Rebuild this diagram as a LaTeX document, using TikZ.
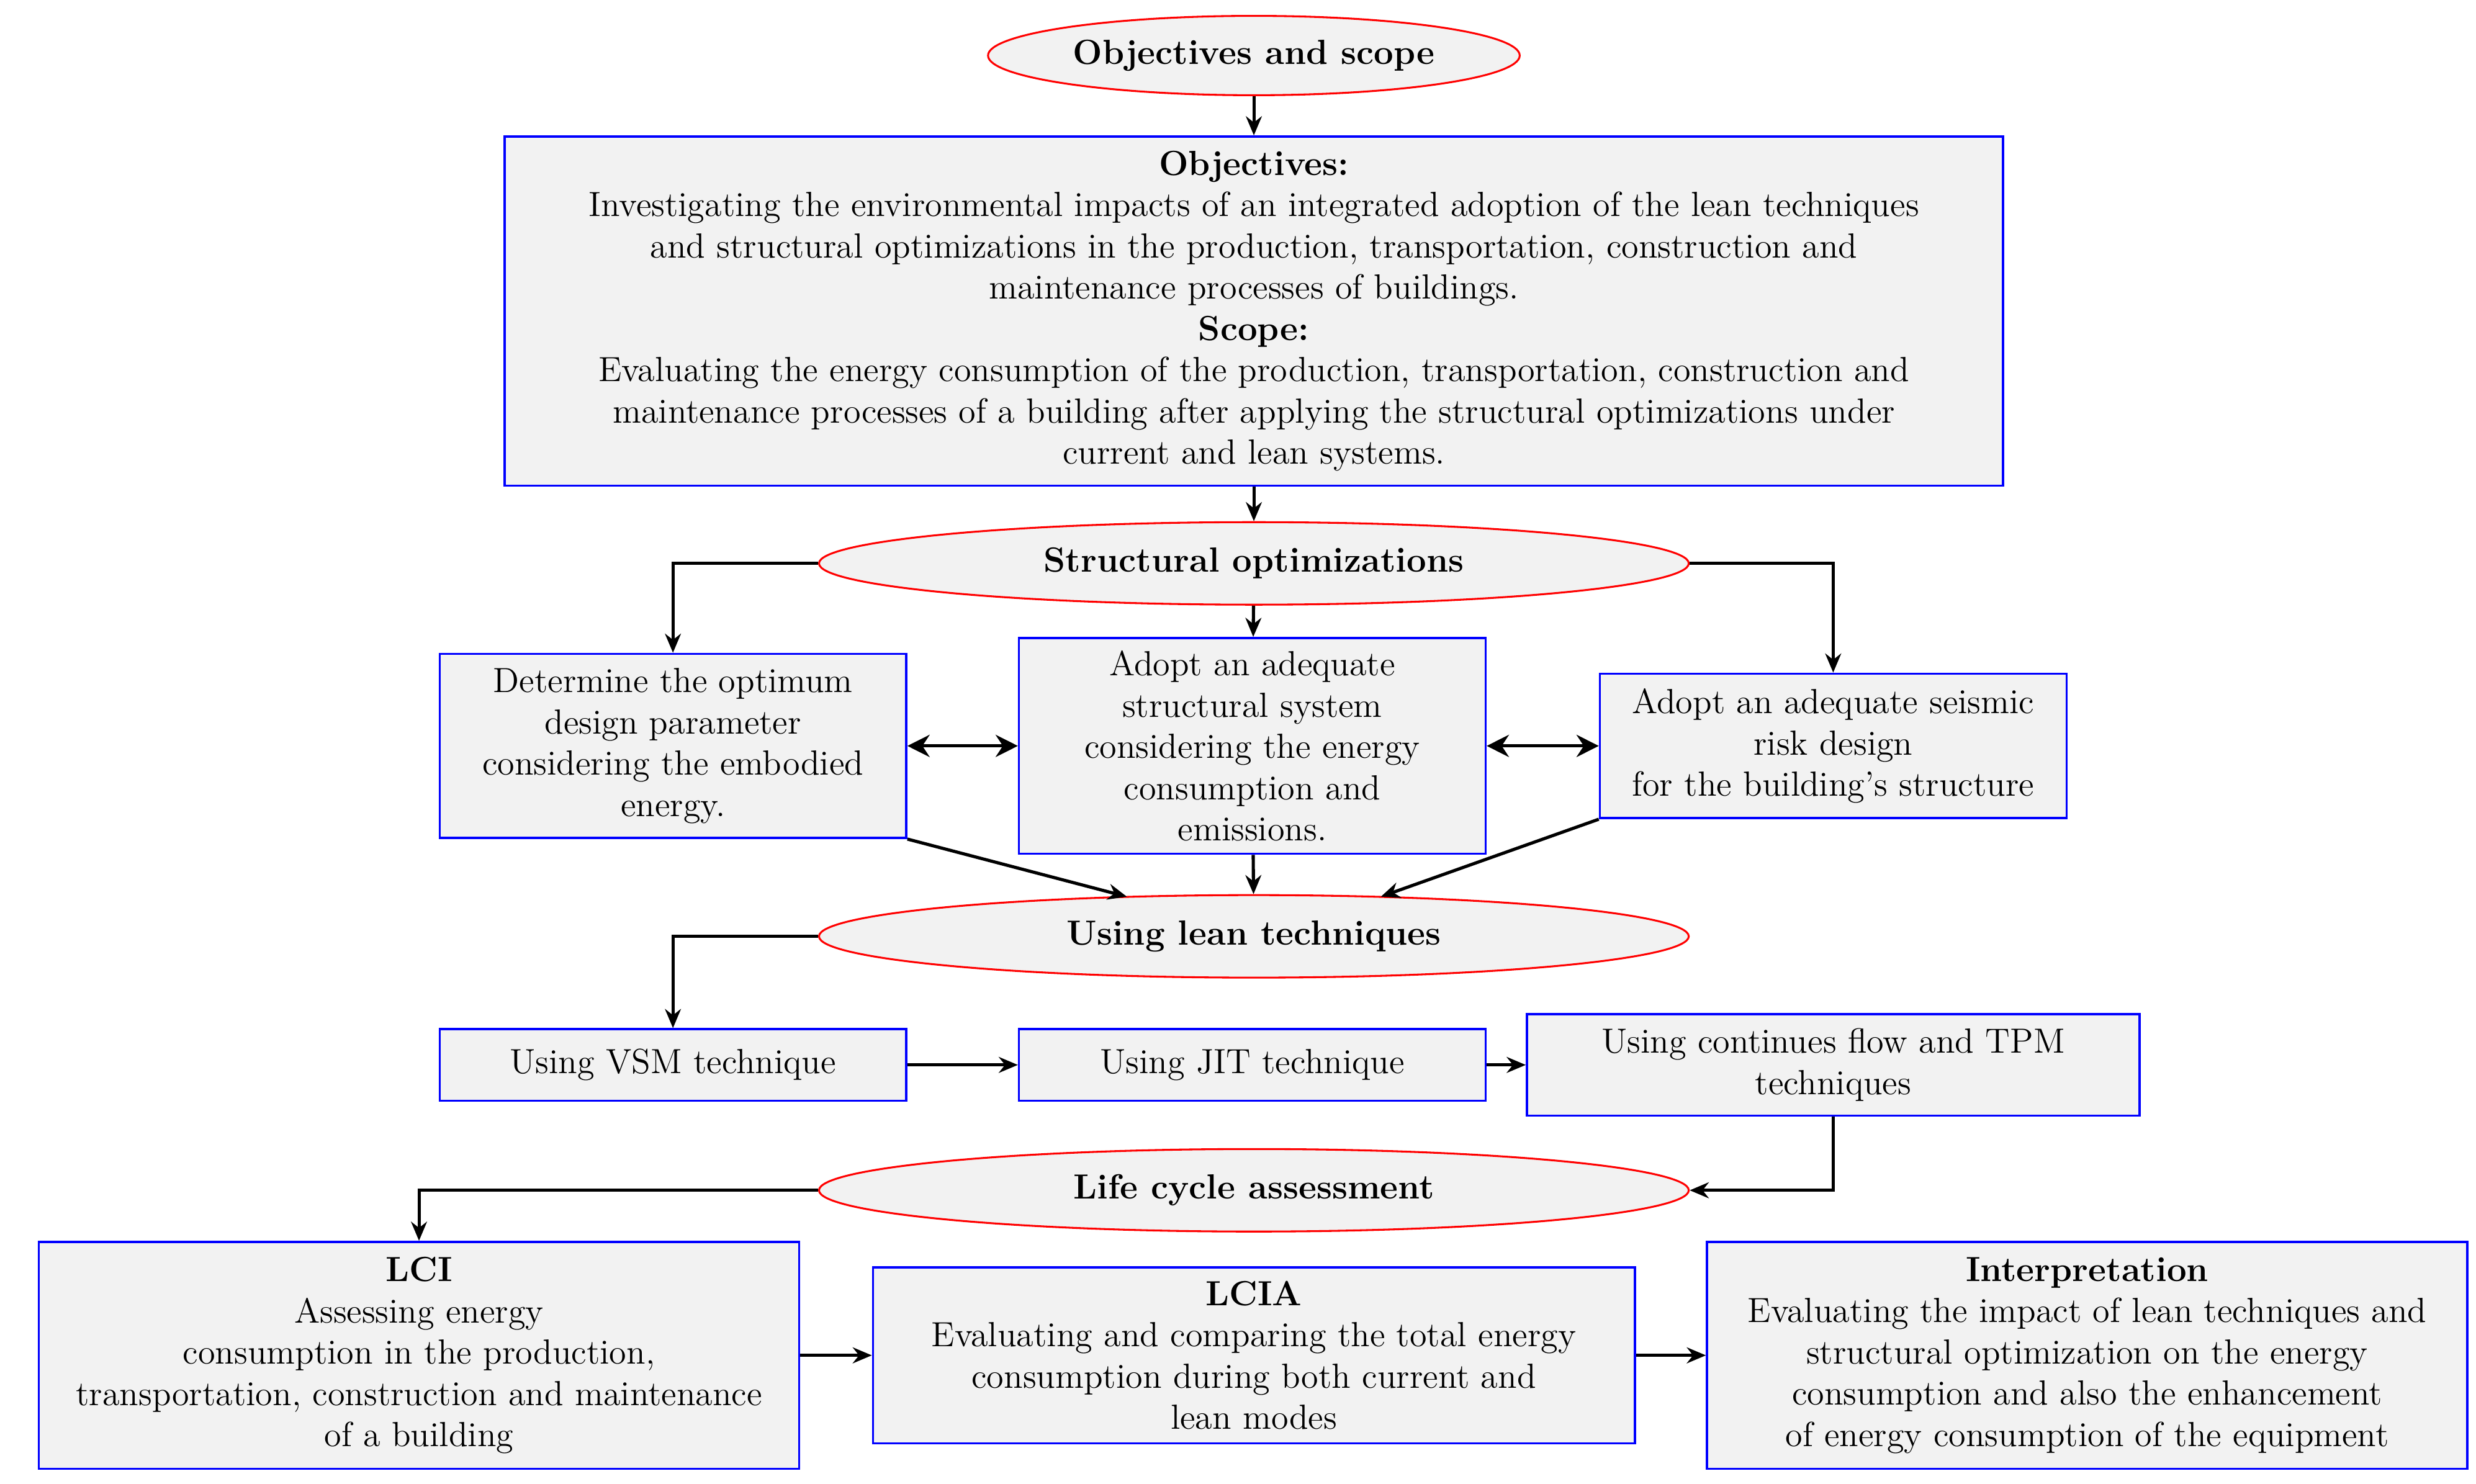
\documentclass[tikz,border=0pt]{standalone}
\usetikzlibrary{shapes.geometric,arrows.meta}
\begin{document}
\begin{tikzpicture}[x=0.5pt,y=-0.5pt,
 every node/.style={font=\fontsize{11}{13}\selectfont, align=center, inner sep=1pt},
 ell/.style={ellipse, draw=red, fill=gray!10, line width=0.6pt, font=\fontsize{11}{13}\selectfont\bfseries},
 box/.style={rectangle, draw=blue, fill=gray!10, line width=0.7pt},
 arr/.style={-{Stealth[length=6pt,width=5pt]}, line width=1pt},
 darr/.style={{Stealth[length=7pt,width=7pt]}-{Stealth[length=7pt,width=7pt]}, line width=1pt}]
\useasboundingbox (0,0) rectangle (1560,935);
\node[ell,minimum width=167.5pt,minimum height=25pt] (e1) at (790,35) {Objectives and scope};
\node[box,minimum width=472pt,minimum height=110pt] (b1) at (790,196) {\textbf{Objectives:}\\Investigating the environmental impacts of an integrated adoption of the lean techniques\\and structural optimizations in the production, transportation, construction and\\maintenance processes of buildings.\\\textbf{Scope:}\\Evaluating the energy consumption of the production, transportation, construction and\\maintenance processes of a building after applying the structural optimizations under\\current and lean systems.};
\node[ell,minimum width=274pt,minimum height=26pt] (e2) at (790,355) {Structural optimizations};
\node[box,minimum width=147pt,minimum height=58pt] (b21) at (424,470) {Determine the optimum\\design parameter\\considering the embodied\\energy.};
\node[box,minimum width=147pt,minimum height=68pt] (b22) at (789,470) {Adopt an adequate\\structural system\\considering the energy\\consumption and\\emissions.};
\node[box,minimum width=147pt,minimum height=45.5pt] (b23) at (1155,470) {Adopt an adequate seismic\\risk design\\for the building's structure};
\node[ell,minimum width=274pt,minimum height=26pt] (e3) at (790,590) {Using lean techniques};
\node[box,minimum width=147pt,minimum height=22.5pt] (b31) at (424,671) {Using VSM technique};
\node[box,minimum width=147pt,minimum height=22.5pt] (b32) at (789,671) {Using JIT technique};
\node[box,minimum width=193pt,minimum height=32pt] (b33) at (1155,671) {Using continues flow and TPM\\techniques};
\node[ell,minimum width=274pt,minimum height=26pt] (e4) at (790,750) {Life cycle assessment};
\node[box,minimum width=239.5pt,minimum height=71.5pt] (b41) at (264,854) {\textbf{LCI}\\Assessing energy\\consumption in the production,\\transportation, construction and maintenance\\of a building};
\node[box,minimum width=240pt,minimum height=55.5pt] (b42) at (790,854) {\textbf{LCIA}\\Evaluating and comparing the total energy\\consumption during both current and\\lean modes};
\node[box,minimum width=239.5pt,minimum height=71.5pt] (b43) at (1315,854) {\textbf{Interpretation}\\Evaluating the impact of lean techniques and\\structural optimization on the energy\\consumption and also the enhancement\\of energy consumption of the equipment};
\draw[arr] (e1) -- (b1);
\draw[arr] (b1) -- (e2);
\draw[arr] (e2.west) -| (b21.north);
\draw[arr] (e2.east) -| (b23.north);
\draw[arr] (e2) -- (b22);
\draw[darr] (b21) -- (b22);
\draw[darr] (b22) -- (b23);
\draw[arr] (b21.south east) -- (710,565);
\draw[arr] (b22) -- (e3);
\draw[arr] (b23.south west) -- (870,565);
\draw[arr] (e3.west) -| (b31.north);
\draw[arr] (b31) -- (b32);
\draw[arr] (b32) -- (b33);
\draw[arr] (b33.south) |- (e4.east);
\draw[arr] (e4.west) -| (b41.north);
\draw[arr] (b41) -- (b42);
\draw[arr] (b42) -- (b43);
\end{tikzpicture}
\end{document}
